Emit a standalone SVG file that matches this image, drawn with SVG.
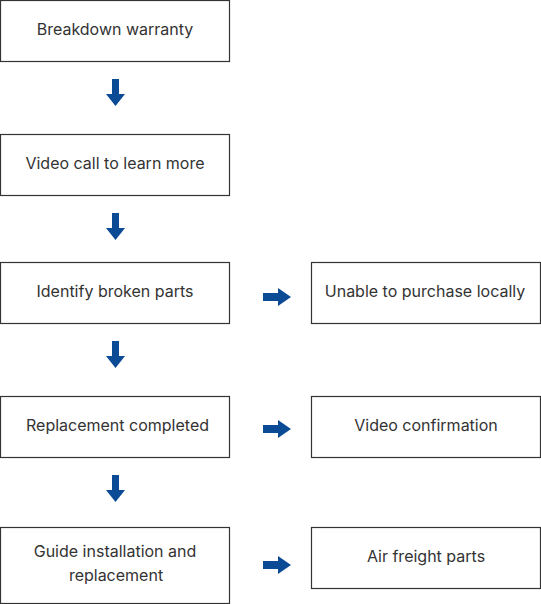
<svg xmlns="http://www.w3.org/2000/svg" width="541" height="604" viewBox="0 0 541 604">
<defs>
<style>
.box{fill:#ffffff;stroke:#333333;stroke-width:1.2}
.t{font-family:Inter,"Liberation Sans",sans-serif;font-size:16px;fill:#333333;text-anchor:middle}
.arr{fill:#0b4a94}
</style>
<path id="down" d="M-3.5,0 H3.5 V15 H9.5 L0,27 L-9.5,15 H-3.5 Z"/>
<path id="right" d="M0,-4 H15 V-9 L28,0 L15,9 V4 H0 Z"/>
</defs>
<rect width="541" height="604" fill="#ffffff"/>
<g id="n1"><rect class="box" x="0.5" y="0.5" width="229" height="61"/><text class="t" x="115" y="35">Breakdown warranty</text></g>
<g id="n2"><rect class="box" x="0.5" y="134.5" width="229" height="61"/><text class="t" x="115" y="169">Video call to learn more</text></g>
<g id="n3"><rect class="box" x="0.5" y="262.5" width="229" height="61"/><text class="t" x="115" y="297">Identify broken parts</text></g>
<g id="n4"><rect class="box" x="0.5" y="396.5" width="229" height="61"/><text class="t" x="117.5" y="431">Replacement completed</text></g>
<g id="n5"><rect class="box" x="0.5" y="527.5" width="229" height="76"/><text class="t" x="115" y="557">Guide installation and</text><text class="t" x="116" y="581">replacement</text></g>
<g id="n6"><rect class="box" x="311.5" y="262.5" width="229" height="61"/><text class="t" x="425" y="297">Unable to purchase locally</text></g>
<g id="n7"><rect class="box" x="311.5" y="396.5" width="229" height="61"/><text class="t" x="426" y="431">Video confirmation</text></g>
<g id="n8"><rect class="box" x="311.5" y="527.5" width="229" height="61"/><text class="t" x="426" y="562">Air freight parts</text></g>
<g id="connectors" class="arr">
<use href="#down" x="115.5" y="79"/>
<use href="#down" x="115.5" y="213"/>
<use href="#down" x="115.5" y="341"/>
<use href="#down" x="115.5" y="475"/>
<use href="#right" x="263" y="297"/>
<use href="#right" x="263" y="429"/>
<use href="#right" x="263" y="565"/>
</g>
</svg>
